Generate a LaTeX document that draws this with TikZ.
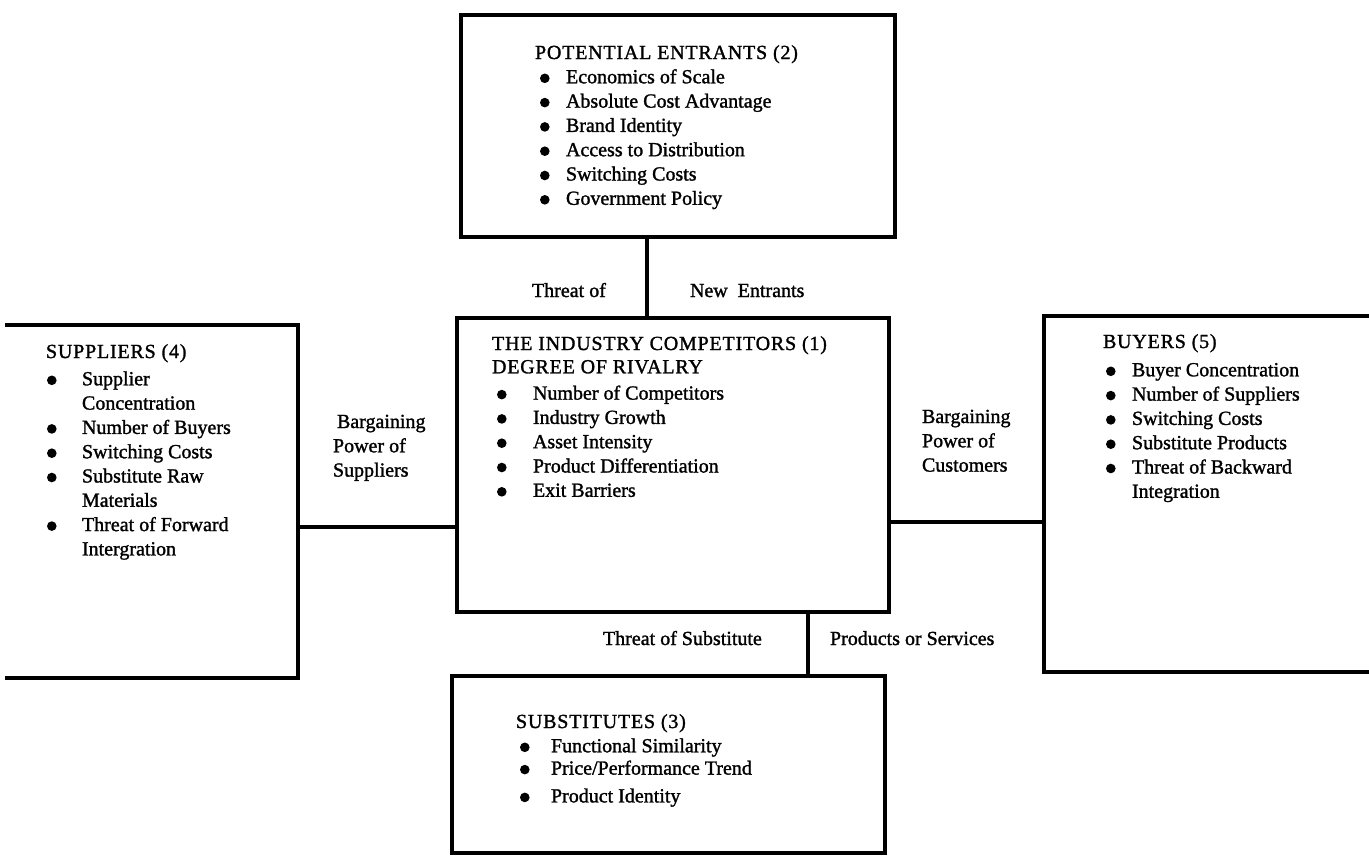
\documentclass[tikz,border=0pt]{standalone}
\usepackage{fontspec}
\setmainfont{Liberation Serif}[FakeBold=1.4]
% filled round bullet used in every list
\newcommand\bul{\tikz[baseline=0pt]\fill (0pt,5pt) circle[radius=4.8pt];}
% list item: #1 indent of the bullet, #2 gap from bullet to text, #3 text
\newcommand\itm[3]{\hspace*{#1}\makebox[#2][l]{\bul}#3}
% continuation line of an item
\newcommand\cnt[2]{\hspace*{#1}#2}
% box headings are set slightly wider
\newcommand\hd[1]{{\addfontfeature{LetterSpace=4}#1}}
\begin{document}
\begin{tikzpicture}[x=1pt,y=-1pt,
  area/.style={inner sep=0pt, outer sep=0pt, draw=none},
  frame/.style={line width=3.4pt, line cap=rect, line join=miter},
  link/.style={line width=3.4pt},
  txt/.style={anchor=base west, inner sep=0pt, outer sep=0pt,
              font=\fontsize{20}{24.3}\selectfont},
]
\useasboundingbox (0,0) rectangle (1369,855);

% ---------- box areas ----------
\node[area, minimum width=434pt, minimum height=222pt] (pe)  at (678,126)     {};
\node[area, minimum width=432pt, minimum height=294pt] (ic)  at (673,465)     {};
\node[area, minimum width=291pt, minimum height=353pt] (sup) at (152.5,501.5) {};
\node[area, minimum width=330pt, minimum height=356pt] (buy) at (1209,494)    {};
\node[area, minimum width=433pt, minimum height=177pt] (sub) at (668.5,764.5) {};

% ---------- frames ----------
\draw[frame] (pe.north west) rectangle (pe.south east);
\draw[frame] (ic.north west) rectangle (ic.south east);
\draw[frame] (sub.north west) rectangle (sub.south east);
\draw[frame] (sup.north west) -- (sup.north east) -- (sup.south east) -- (sup.south west);
\draw[frame] (buy.north east) -- (buy.north west) -- (buy.south west) -- (buy.south east);

% ---------- connectors ----------
\draw[link] (647,0 |- pe.south) -- (647,0 |- ic.north);
\draw[link] (sup.east |- 0,527) -- (ic.west |- 0,527);
\draw[link] (ic.east |- 0,522) -- (buy.west |- 0,522);
\draw[link] (808,0 |- ic.south) -- (808,0 |- sub.north);

% ---------- connector labels ----------
\node[txt] (l-threat)  at (532,297) {Threat of};
\node[txt] (l-new)     at (690,297) {New\ \ Entrants};
\node[txt] (l-supp)    at (333,428) {\begin{tabular}[t]{@{}l@{}}\hspace*{4pt}Bargaining\\Power of\\Suppliers\end{tabular}};
\node[txt] (l-cust)    at (922,423) {\begin{tabular}[t]{@{}l@{}}Bargaining\\Power of\\Customers\end{tabular}};
\node[txt] (l-subst)   at (603,645) {Threat of Substitute};
\node[txt] (l-prod)    at (830,645) {Products or Services};

% ---------- box contents ----------
\node[txt] (pe-text) at (535,59) {\begin{tabular}[t]{@{}l@{}}
\hd{POTENTIAL ENTRANTS (2)}\\
\itm{5pt}{26pt}{Economics of Scale}\\
\itm{5pt}{26pt}{Absolute Cost Advantage}\\
\itm{5pt}{26pt}{Brand Identity}\\
\itm{5pt}{26pt}{Access to Distribution}\\
\itm{5pt}{26pt}{Switching Costs}\\
\itm{5pt}{26pt}{Government Policy}
\end{tabular}};

\node[txt] (ic-text) at (492,350) {\begin{tabular}[t]{@{}l@{}}
\hd{THE INDUSTRY COMPETITORS (1)}\\[-1pt]
\hd{DEGREE OF RIVALRY}\\[2pt]
\itm{5pt}{36pt}{Number of Competitors}\\
\itm{5pt}{36pt}{Industry Growth}\\
\itm{5pt}{36pt}{Asset Intensity}\\
\itm{5pt}{36pt}{Product Differentiation}\\
\itm{5pt}{36pt}{Exit Barriers}
\end{tabular}};

\node[txt] (sup-text) at (46,358) {\begin{tabular}[t]{@{}l@{}}
\hd{SUPPLIERS (4)}\\[3pt]
\itm{1pt}{35pt}{Supplier}\\
\cnt{36pt}{Concentration}\\
\itm{1pt}{35pt}{Number of Buyers}\\
\itm{1pt}{35pt}{Switching Costs}\\
\itm{1pt}{35pt}{Substitute Raw}\\
\cnt{36pt}{Materials}\\
\itm{1pt}{35pt}{Threat of Forward}\\
\cnt{36pt}{Intergration}
\end{tabular}};

\node[txt] (buy-text) at (1103,348) {\begin{tabular}[t]{@{}l@{}}
\hd{BUYERS (5)}\\[4pt]
\itm{3pt}{26pt}{Buyer Concentration}\\
\itm{3pt}{26pt}{Number of Suppliers}\\
\itm{3pt}{26pt}{Switching Costs}\\
\itm{3pt}{26pt}{Substitute Products}\\
\itm{3pt}{26pt}{Threat of Backward}\\
\cnt{29pt}{Integration}
\end{tabular}};

\node[txt] (sub-text) at (516,728) {\begin{tabular}[t]{@{}l@{}}
\hd{SUBSTITUTES (3)}\\[0pt]
\itm{4pt}{31pt}{Functional Similarity}\\[-2pt]
\itm{4pt}{31pt}{Price/Performance Trend}\\[3.5pt]
\itm{4pt}{31pt}{Product Identity}
\end{tabular}};
\end{tikzpicture}
\end{document}
